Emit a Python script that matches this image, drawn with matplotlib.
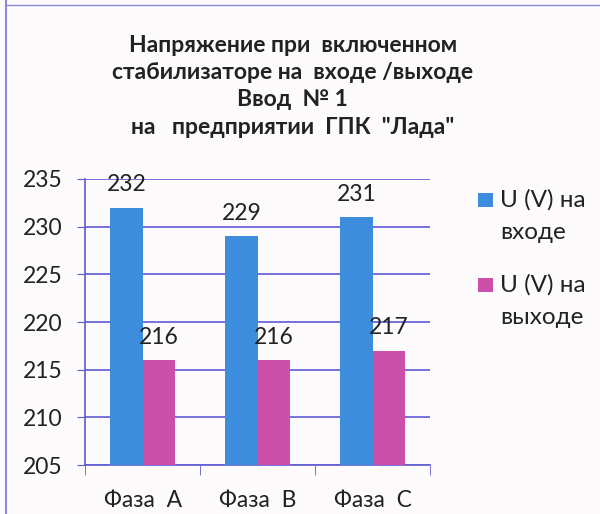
import matplotlib.pyplot as plt
from matplotlib.patches import Rectangle
import numpy as np

plt.rcParams['font.family'] = ['Lato', 'DejaVu Sans']

phases = ["Фаза  A", "Фаза  B", "Фаза  C"]
u_in = [232, 229, 231]
u_out = [216, 216, 217]
series_names = ["U (V) на\nвходе", "U (V) на\nвыходе"]
yticks = [205, 210, 215, 220, 225, 230, 235]

blue = "#3d8ddc"
pink = "#cc4fa9"
grid = "#5f5ad0"
txt = "#222222"

fig = plt.figure(figsize=(6.0, 5.14), dpi=100)
fig.patch.set_facecolor("#fcfafa")
ax = fig.add_axes([0.142, 0.095, 0.575, 0.557])
ax.set_facecolor("none")

x = np.arange(len(phases))
w = 0.285
b1 = ax.bar(x - w / 2, [v - 205 for v in u_in], w, bottom=205, color=blue, zorder=3)
b2 = ax.bar(x + w / 2, [v - 205 for v in u_out], w, bottom=205, color=pink, zorder=3)
ax.bar_label(b1, labels=[str(v) for v in u_in], padding=9, fontsize=16.5, color=txt)
ax.bar_label(b2, labels=[str(v) for v in u_out], padding=9, fontsize=16.5, color=txt)

ax.set_ylim(205, 235)
ax.set_yticks(yticks)
ax.set_xlim(-0.5, 2.5)
ax.set_xticks(x)
ax.set_xticklabels(phases)
ax.set_xticks([-0.5, 0.5, 1.5, 2.5], minor=True)
ax.tick_params(axis="x", which="major", length=0, pad=18, labelsize=16.5, labelcolor=txt)
ax.tick_params(axis="x", which="minor", length=7, color=grid, direction="out")
ax.tick_params(axis="y", length=6, color=grid, labelsize=16.5, labelcolor=txt, pad=10)
ax.yaxis.grid(True, color=grid, linewidth=1.2, zorder=0)
for s in ["top", "right"]:
    ax.spines[s].set_visible(False)
for s in ["left", "bottom"]:
    ax.spines[s].set_color(grid)
    ax.spines[s].set_linewidth(1.2)

fig.text(0.488, 0.832,
         "Напряжение при  включенном\nстабилизаторе на  входе /выходе\nВвод  № 1\nна   предприятии  ГПК  \"Лада\"",
         ha="center", va="center", fontsize=16.5, fontweight="bold", color=txt,
         linespacing=1.37)

# legend, square next to the first line of each label
legend_rows = [(200, 233), (285, 317)]
for name, col, rows in zip(series_names, [blue, pink], legend_rows):
    top = 1 - (rows[0] + 7) / 514
    fig.add_artist(Rectangle((0.797, top), 0.025, 14 / 514, transform=fig.transFigure,
                             facecolor=col, edgecolor="none"))
    for line, yy in zip(name.split("\n"), rows):
        fig.text(0.833, 1 - yy / 514, line, ha="left", va="center", fontsize=17.5, color=txt)

fig.add_artist(plt.Line2D([0.01, 0.01], [0, 1], color="#8a8ad8", linewidth=1.5))
fig.add_artist(plt.Line2D([0.01, 1], [0.99, 0.99], color="#8a8ad8", linewidth=1.0))

fig.savefig("out.png", dpi=100, facecolor=fig.get_facecolor())
